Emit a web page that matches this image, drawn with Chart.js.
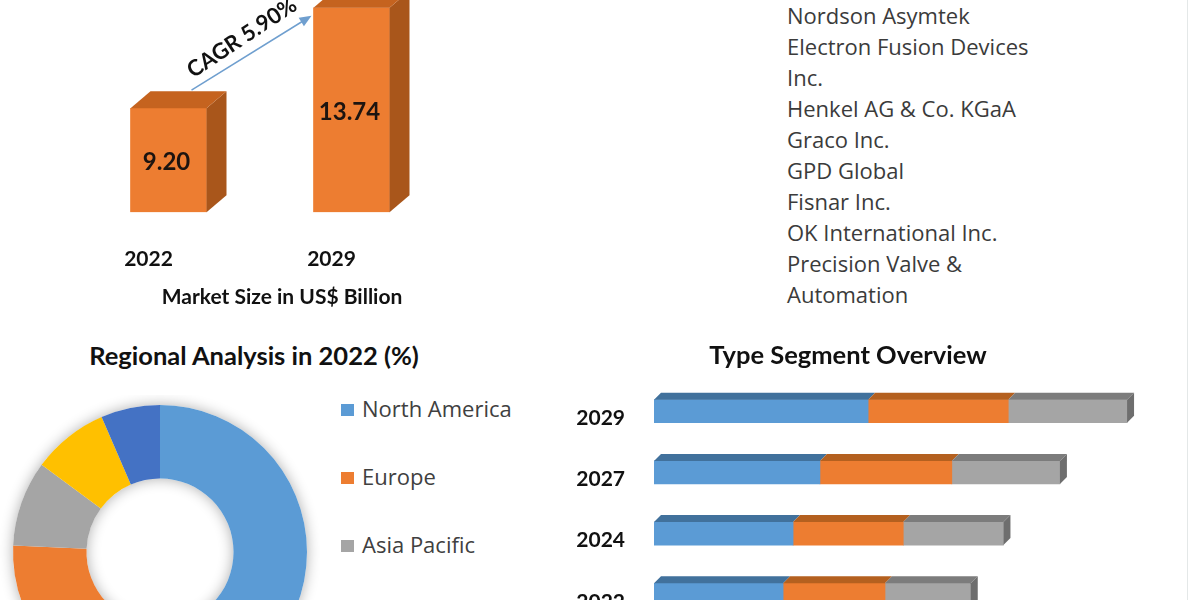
<!DOCTYPE html>
<html>
<head>
<meta charset="utf-8">
<title>Market overview</title>
<script src="https://cdn.jsdelivr.net/npm/chart.js@4.4.1/dist/chart.umd.min.js"></script>
<style>
  html, body { margin: 0; padding: 0; background: #fff; }
  #page { position: relative; width: 1200px; height: 600px; overflow: hidden; background: #fff; }
  .box { position: absolute; }
  #companies { left: 787px; top: 0; width: 262px; font: 22px "Open Sans", sans-serif; line-height: 31px; color: #3b3b3b; }
  #regionTitle { left: 0; top: 340px; width: 508px; text-align: center; font: bold 25.5px Lato, sans-serif; color: #111; }
  #regionLegend { left: 341px; top: 394px; font: 22px "Open Sans", sans-serif; color: #404040; }
  #regionLegend .item { height: 68px; line-height: 28px; white-space: nowrap; }
  #regionLegend .sw { display: inline-block; width: 13px; height: 12px; margin-right: 8px; vertical-align: 1px; }
  #edge { left: 1187px; top: 0; width: 1px; height: 600px; background: #e4e8e8; }
</style>
</head>
<body>
<div id="page">
  <div class="box" style="left:0;top:0;width:504px;height:314px"><canvas id="marketChart"></canvas></div>
  <div class="box" id="companies"></div>
  <div class="box" id="regionTitle">Regional Analysis in 2022 (%)</div>
  <div class="box" style="left:0;top:395px;width:320px;height:314px"><canvas id="regionChart"></canvas></div>
  <div class="box" id="regionLegend"></div>
  <div class="box" style="left:560px;top:330px;width:580px;height:337px"><canvas id="typeChart"></canvas></div>
  <div class="box" id="edge"></div>
</div>
<script>
// market size (US$ Billion)
const marketYears = ['2022', '2029'];
const marketSize = [9.20, 13.74];
const cagrText = 'CAGR 5.90%';

// key players
const companies = [
  'Nordson Asymtek',
  'Electron Fusion Devices Inc.',
  'Henkel AG & Co. KGaA',
  'Graco Inc.',
  'GPD Global',
  'Fisnar Inc.',
  'OK International Inc.',
  'Precision Valve & Automation'
];

// regional share 2022 (%)
const regions = ['North America', 'Europe', 'Asia Pacific', 'Middle East and Africa', 'South America'];
const regionShare = [50.0, 25.7, 9.4, 8.4, 6.5];
const regionColors = ['#5b9bd5', '#ed7d31', '#a5a5a5', '#ffc000', '#4472c4'];

// type segments (US$ Billion)
const typeYears = ['2029', '2027', '2024', '2022'];
const typeSegA = [6.22, 4.82, 4.04, 3.75];
const typeSegB = [4.07, 3.83, 3.20, 2.96];
const typeSegC = [3.45, 3.14, 2.91, 2.49];

Chart.defaults.font.family = 'Lato, "Open Sans", sans-serif';

// companies list + legend are plain html
document.getElementById('companies').innerHTML = companies.map(c => '<div>' + c + '</div>').join('');
document.getElementById('regionLegend').innerHTML = regions.map((r, i) =>
  '<div class="item"><span class="sw" style="background:' + regionColors[i] + '"></span>' + r + '</div>').join('');

function poly(ctx, pts, color) {
  ctx.beginPath();
  ctx.moveTo(pts[0][0], pts[0][1]);
  for (let i = 1; i < pts.length; i++) ctx.lineTo(pts[i][0], pts[i][1]);
  ctx.closePath();
  ctx.fillStyle = color;
  ctx.fill();
}

// fake 3d for the two upright bars, plus value labels and the CAGR arrow
const columnExtras = {
  id: 'columnExtras',
  afterDatasetsDraw(chart) {
    const ctx = chart.ctx;
    const bars = chart.getDatasetMeta(0).data;
    const dx = 20, dy = 17;
    ctx.save();
    bars.forEach((b, i) => {
      const l = b.x - b.width / 2, r = b.x + b.width / 2;
      poly(ctx, [[r, b.y], [r + dx, b.y - dy], [r + dx, b.base - dy], [r, b.base]], '#a9561b');
      poly(ctx, [[l, b.y], [l + dx, b.y - dy], [r + dx, b.y - dy], [r, b.y]], '#c5631f');
      ctx.fillStyle = '#1c1410';
      ctx.font = 'bold 24px Lato, sans-serif';
      ctx.textAlign = 'center';
      ctx.textBaseline = 'middle';
      ctx.fillText(marketSize[i].toFixed(2), b.x - 2, (b.y + b.base) / 2 + 2);
    });

    // arrow from first bar top to second bar
    const x1 = bars[0].x + 23, y1 = bars[0].y - 18;
    const x2 = bars[1].x - 40, y2 = bars[1].y + 8;
    const ang = Math.atan2(y2 - y1, x2 - x1);
    ctx.strokeStyle = '#6f9fcf';
    ctx.fillStyle = '#6f9fcf';
    ctx.lineWidth = 1.5;
    ctx.beginPath();
    ctx.moveTo(x1, y1);
    ctx.lineTo(x2 - 9 * Math.cos(ang), y2 - 9 * Math.sin(ang));
    ctx.stroke();
    ctx.beginPath();
    ctx.moveTo(x2, y2);
    ctx.lineTo(x2 - 12 * Math.cos(ang) + 5 * Math.sin(ang), y2 - 12 * Math.sin(ang) - 5 * Math.cos(ang));
    ctx.lineTo(x2 - 12 * Math.cos(ang) - 5 * Math.sin(ang), y2 - 12 * Math.sin(ang) + 5 * Math.cos(ang));
    ctx.closePath();
    ctx.fill();

    const mx = (x1 + x2) / 2 + 18 * Math.sin(ang), my = (y1 + y2) / 2 - 18 * Math.cos(ang);
    ctx.translate(mx, my);
    ctx.rotate(ang - 0.03);
    ctx.fillStyle = '#111';
    ctx.font = 'bold 22px Lato, sans-serif';
    ctx.fillText(cagrText, 0, 0);
    ctx.restore();
  }
};

new Chart(document.getElementById('marketChart'), {
  type: 'bar',
  data: {
    labels: marketYears,
    datasets: [{ data: marketSize, base: 4.5, backgroundColor: '#ed7d31', barThickness: 76 }]
  },
  options: {
    responsive: true,
    maintainAspectRatio: false,
    animation: false,
    layout: { padding: { left: 77, right: 17, top: 2, bottom: 0 } },
    plugins: {
      legend: { display: false },
      tooltip: { enabled: false },
      title: {
        display: true, position: 'bottom', text: 'Market Size in US$ Billion', color: '#111',
        font: { size: 21, weight: 'bold' }, padding: { top: 11, bottom: 4.4 }
      }
    },
    scales: {
      x: {
        grid: { display: false, drawTicks: true, tickLength: 32 },
        border: { display: false },
        ticks: { color: '#111', font: { size: 21, weight: 'bold' }, padding: 2, labelOffset: -20 }
      },
      y: { display: false, min: 4.5, max: 14 },
      // empty right-hand axis, only there so the bottom title centres like the original
      yRight: {
        position: 'right', display: true,
        grid: { display: false }, border: { display: false }, ticks: { display: false },
        afterFit(scale) { scale.width = 44; }
      }
    }
  },
  plugins: [columnExtras]
});

// soft glow behind the ring
const ringShadow = {
  id: 'ringShadow',
  beforeDatasetsDraw(chart) {
    const a = chart.getDatasetMeta(0).data[0];
    if (!a) return;
    const ctx = chart.ctx;
    ctx.save();
    ctx.shadowColor = 'rgba(0,0,0,0.32)';
    ctx.shadowBlur = 14;
    ctx.fillStyle = '#fff';
    ctx.beginPath();
    ctx.arc(a.x, a.y, a.outerRadius, 0, Math.PI * 2);
    ctx.arc(a.x, a.y, a.innerRadius, 0, Math.PI * 2, true);
    ctx.fill();
    ctx.restore();
  }
};

new Chart(document.getElementById('regionChart'), {
  type: 'doughnut',
  data: {
    labels: regions,
    datasets: [{ data: regionShare, backgroundColor: regionColors, borderWidth: 0, hoverOffset: 0 }]
  },
  options: {
    responsive: true,
    maintainAspectRatio: false,
    animation: false,
    cutout: '50%',
    layout: { padding: { left: 13, right: 13, top: 10, bottom: 10 } },
    plugins: { legend: { display: false }, tooltip: { enabled: false } }
  },
  plugins: [ringShadow]
});

// top strip and end cap for the flat horizontal bars
const stripTops = ['#41719c', '#b4601f', '#7c7c7c'];
const barStrips = {
  id: 'barStrips',
  afterDatasetsDraw(chart) {
    const ctx = chart.ctx;
    const d = 7;
    ctx.save();
    chart.data.datasets.forEach((ds, k) => {
      chart.getDatasetMeta(k).data.forEach(b => {
        const top = b.y - b.height / 2, bot = b.y + b.height / 2;
        poly(ctx, [[b.base, top], [b.base + d, top - d], [b.x + d, top - d], [b.x, top]], stripTops[k]);
        if (k === chart.data.datasets.length - 1) {
          poly(ctx, [[b.x, top], [b.x + d, top - d], [b.x + d, bot - d], [b.x, bot]], '#6e6e6e');
        }
      });
    });
    ctx.restore();
  }
};

new Chart(document.getElementById('typeChart'), {
  type: 'bar',
  data: {
    labels: typeYears,
    datasets: [
      { label: 'Type A', data: typeSegA, backgroundColor: '#5b9bd5' },
      { label: 'Type B', data: typeSegB, backgroundColor: '#ed7d31' },
      { label: 'Type C', data: typeSegC, backgroundColor: '#a5a5a5' }
    ]
  },
  options: {
    indexAxis: 'y',
    responsive: true,
    maintainAspectRatio: false,
    animation: false,
    datasets: { bar: { barThickness: 23 } },
    layout: { padding: { right: 4 } },
    plugins: {
      legend: { display: false },
      tooltip: { enabled: false },
      title: {
        display: true, text: 'Type Segment Overview', color: '#111',
        font: { size: 25.5, weight: 'bold' }, padding: { top: 10, bottom: 10 }
      }
    },
    scales: {
      x: { stacked: true, display: false, min: 0, max: 14 },
      y: {
        stacked: true,
        grid: { display: false, drawTicks: false },
        border: { display: false },
        ticks: { color: '#111', font: { size: 21, weight: 'bold' }, padding: 29, labelOffset: 7 },
        afterFit(scale) { scale.width = 94; }
      }
    }
  },
  plugins: [barStrips]
});
</script>
</body>
</html>
